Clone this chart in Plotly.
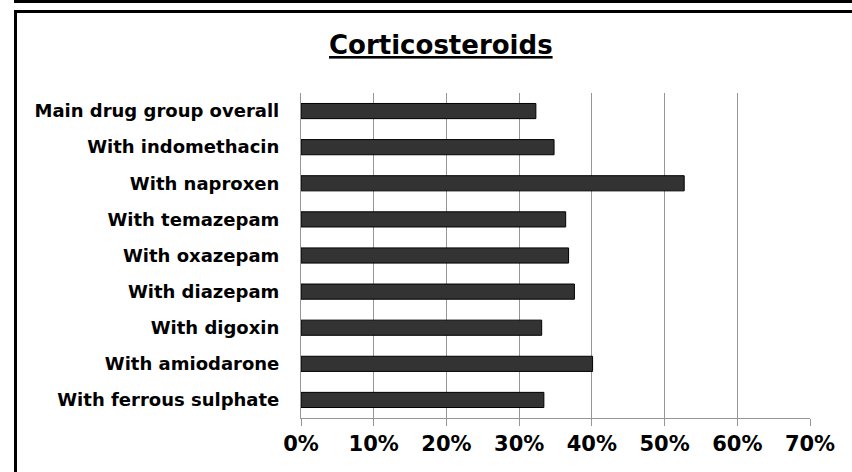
import plotly.graph_objects as go

# Share of patients (%) per combination group
categories = [
    "Main drug group overall",
    "With indomethacin",
    "With naproxen",
    "With temazepam",
    "With oxazepam",
    "With diazepam",
    "With digoxin",
    "With amiodarone",
    "With ferrous sulphate",
]
values = [32.3, 34.8, 52.7, 36.4, 36.8, 37.6, 33.1, 40.1, 33.4]
x_ticks = [0, 10, 20, 30, 40, 50, 60, 70]
title_text = "Corticosteroids"

W, H = 852, 472
ML, MR, MT, MB = 301, 42, 93, 54
PW, PH = W - ML - MR, H - MT - MB


def px(x):
    return (x - ML) / PW


def py(y):
    return (H - MB - y) / PH


FONT = "DejaVu Sans"

fig = go.Figure(
    go.Bar(
        y=categories,
        x=values,
        orientation="h",
        width=0.42,
        marker=dict(color="#333333", line=dict(color="#000000", width=1)),
    )
)

fig.update_layout(
    width=W,
    height=H,
    margin=dict(l=ML, r=MR, t=MT, b=MB),
    paper_bgcolor="white",
    plot_bgcolor="white",
    showlegend=False,
    bargap=0.58,
)

fig.update_xaxes(
    range=[0, 70],
    tickvals=x_ticks,
    ticktext=[f"{v}%" for v in x_ticks],
    showgrid=True,
    gridcolor="#969696",
    gridwidth=1.2,
    zeroline=False,
    showline=True,
    linecolor="#969696",
    linewidth=1.2,
    ticks="outside",
    ticklen=7,
    tickcolor="#969696",
    tickfont=dict(family=FONT, size=21, color="#000000", weight="bold"),
    fixedrange=True,
)

fig.update_yaxes(
    autorange="reversed",
    showgrid=False,
    zeroline=False,
    showline=True,
    linecolor="#969696",
    linewidth=1.2,
    ticks="",
    ticklabelstandoff=17,
    tickfont=dict(family=FONT, size=18, color="#000000", weight="bold"),
    fixedrange=True,
)

# Underlined chart title
fig.add_annotation(
    text=f"<b><u>{title_text}</u></b>",
    xref="paper",
    yref="paper",
    x=px(441),
    y=py(45),
    xanchor="center",
    yanchor="middle",
    showarrow=False,
    font=dict(family=FONT, size=26, color="#000000"),
)

# Outer frame lines
frame = dict(color="#000000", width=3)
fig.add_shape(type="line", xref="paper", yref="paper",
              x0=px(14), x1=px(W + 5), y0=py(1.5), y1=py(1.5), line=frame)
fig.add_shape(type="line", xref="paper", yref="paper",
              x0=px(14), x1=px(W + 5), y0=py(11.5), y1=py(11.5), line=frame)
fig.add_shape(type="line", xref="paper", yref="paper",
              x0=px(15.5), x1=px(15.5), y0=py(10), y1=py(H + 5), line=frame)

fig.write_html("out.html")
